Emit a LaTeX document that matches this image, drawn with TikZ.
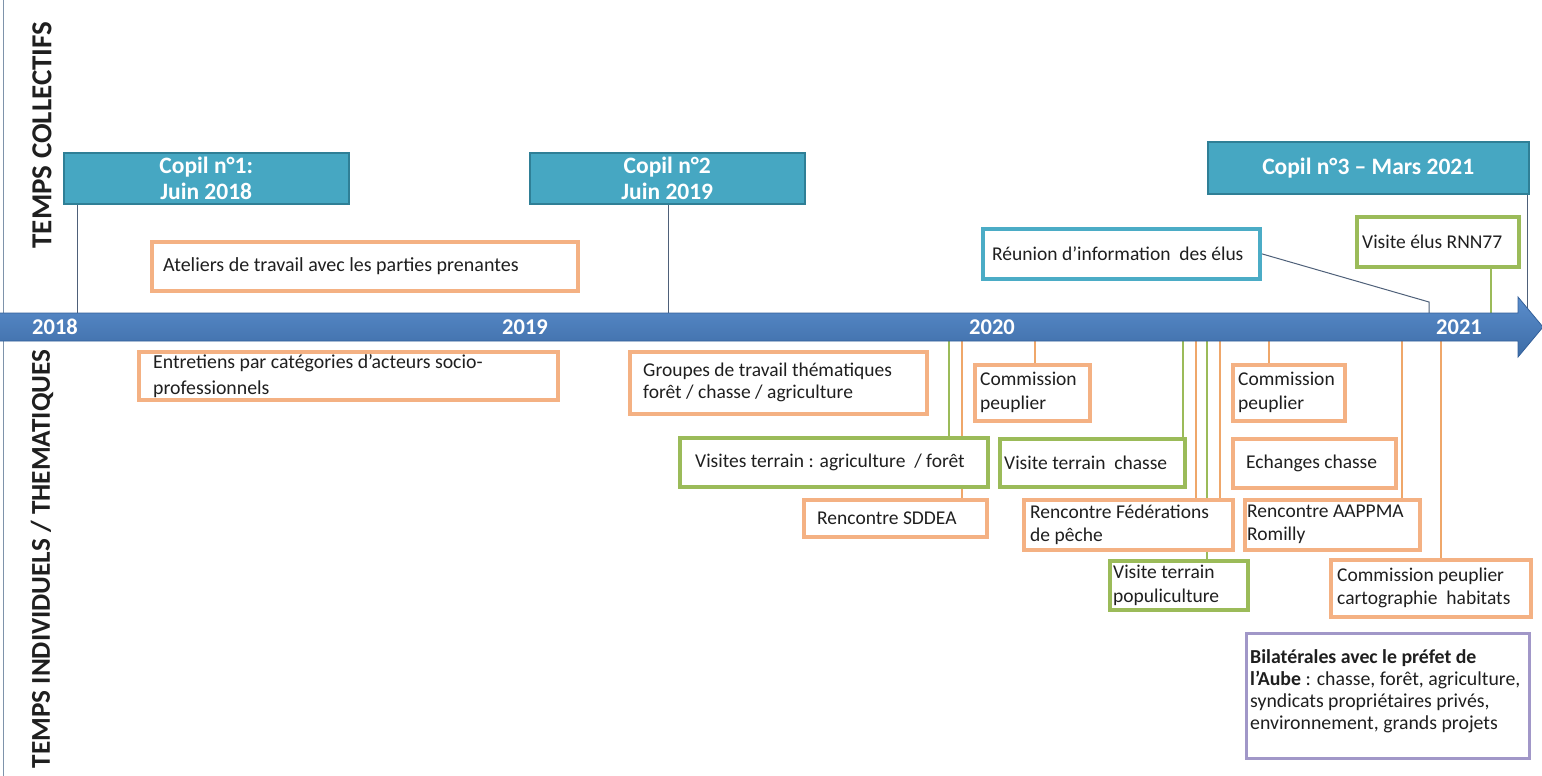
\documentclass[tikz,border=0pt]{standalone}
\usepackage{fontspec}
\setmainfont{Carlito}
\usetikzlibrary{backgrounds}
\definecolor{copilfill}{HTML}{46A7C2}
\definecolor{copildraw}{HTML}{2F7F96}
\definecolor{orb}{HTML}{F4B183}
\definecolor{grb}{HTML}{9BBB59}
\definecolor{teb}{HTML}{4BACC6}
\definecolor{pub}{HTML}{A197C8}
\definecolor{axtop}{HTML}{5A8DCC}
\definecolor{axbot}{HTML}{3D6CA6}
\definecolor{axdraw}{HTML}{33609A}
\definecolor{cl}{HTML}{4E6079}
\definecolor{ol}{HTML}{EFA76A}
\definecolor{gl}{HTML}{9BBB59}
\definecolor{txt}{HTML}{1F1F1F}
\definecolor{sideline}{HTML}{7E93AB}
\begin{document}
\begin{tikzpicture}[x=1pt,y=-1pt,
 copil/.style={rectangle, fill=copilfill, draw=copildraw, line width=1.5pt, inner sep=0pt, text=white, font=\fontsize{23.5}{26}\selectfont\bfseries, align=center, anchor=north west},
 box/.style={rectangle, fill=white, line width=3.5pt, inner sep=0pt, anchor=north west},
 obox/.style={box, draw=orb},
 gbox/.style={box, draw=grb},
 tbox/.style={box, draw=teb},
 pbox/.style={box, draw=pub, line width=3pt},
 lbl/.style={inner sep=0pt, text=txt, font=\fontsize{19.5}{24}\selectfont, align=left, anchor=west},
 yr/.style={inner sep=0pt, text=white, font=\fontsize{22.5}{24}\selectfont\bfseries},
 side/.style={inner sep=0pt, rotate=90, text=txt, font=\fontsize{29}{30}\selectfont\bfseries},
 cline/.style={draw=cl, line width=1pt},
 oline/.style={draw=ol, line width=1.2pt},
 gline/.style={draw=gl, line width=1.2pt},
]
\useasboundingbox (0,0) rectangle (1542,776);

% side labels
\node[side] (tc) at (42,135) {TEMPS COLLECTIFS};
\node[side, font=\fontsize{27.2}{28}\selectfont\bfseries] (ti) at (42,559) {TEMPS INDIVIDUELS / THEMATIQUES};

% time axis
\path[top color=axtop, bottom color=axbot, draw=axdraw, line width=0.8pt]
  (-2,313) -- (1518,313) -- (1518,297) -- (1543,327) -- (1518,357) -- (1518,341) -- (-2,341) -- cycle;
\coordinate (axT) at (0,313);
\coordinate (axB) at (0,341);
\node[yr] (y18) at (55,327) {2018};
\node[yr] (y19) at (525,327) {2019};
\node[yr] (y20) at (992,327) {2020};
\node[yr] (y21) at (1459,327) {2021};

% collective events
\node[copil, minimum width=285pt, minimum height=51pt] (c1) at (63,152) {Copil n°1:\\Juin 2018};
\node[copil, minimum width=275pt, minimum height=51pt] (c2) at (529,152) {Copil n°2\\Juin 2019};
\node[copil, minimum width=321pt, minimum height=52pt] (c3) at (1207,141) {Copil n°3 – Mars 2021};

\node[obox, minimum width=426pt, minimum height=49pt] (atel) at (150,240) {};
\node[lbl, font=\fontsize{20}{24}\selectfont] (atel-t) at ([xshift=13pt]atel.west) {Ateliers de travail avec les parties prenantes};

\node[tbox, minimum width=277pt, minimum height=50pt] (reun) at (981,227) {};
\node[lbl] (reun-t) at ([xshift=11pt]reun.west) {Réunion d’information\ \ des élus};

\node[gbox, minimum width=162pt, minimum height=50pt] (velus) at (1355,215) {};
\node[lbl] (velus-t) at ([xshift=7pt]velus.west) {Visite élus RNN77};

% individual / thematic events
\node[obox, minimum width=419pt, minimum height=48pt] (entr) at (137,350) {};
\node[lbl, font=\fontsize{19.8}{26}\selectfont] (entr-t) at ([xshift=16pt]entr.west) {Entretiens par catégories d’acteurs socio-\\professionnels};

\node[obox, minimum width=297pt, minimum height=62pt] (grp) at (628,350) {};
\node[lbl, font=\fontsize{19.5}{22}\selectfont] (grp-t) at ([xshift=15pt]grp.west) {Groupes de travail thématiques\\forêt / chasse / agriculture};

\node[gbox, minimum width=308pt, minimum height=49pt] (vagri) at (678,436) {};
\node[lbl] (vagri-t) at ([xshift=17pt]vagri.west) {Visites terrain : agriculture\ \ / forêt};

\node[obox, minimum width=183pt, minimum height=37pt] (sddea) at (802,498) {};
\node[lbl] (sddea-t) at ([xshift=15pt]sddea.west) {Rencontre SDDEA};

\node[obox, minimum width=115pt, minimum height=56pt] (com1) at (973,363) {};
\node[lbl] (com1-t) at ([xshift=7pt]com1.west) {Commission\\peuplier};

\node[gbox, minimum width=185pt, minimum height=48pt] (vchasse) at (998,437) {};
\node[lbl] (vchasse-t) at ([xshift=6pt]vchasse.west) {Visite terrain\ \ chasse};

\node[obox, minimum width=209pt, minimum height=50pt] (feder) at (1022,498) {};
\node[lbl, font=\fontsize{19.5}{23}\selectfont] (feder-t) at ([xshift=8pt]feder.west) {Rencontre Fédérations\\de pêche};

\node[gbox, minimum width=138pt, minimum height=49pt] (popu) at (1108,559) {};
\node[lbl] (popu-t) at ([xshift=5pt]popu.west) {Visite terrain\\populiculture};

\node[obox, minimum width=112pt, minimum height=56pt] (com2) at (1231,363) {};
\node[lbl] (com2-t) at ([xshift=7pt]com2.west) {Commission\\peuplier};

\node[obox, minimum width=163pt, minimum height=49pt] (ech) at (1231,437) {};
\node[lbl] (ech-t) at ([xshift=15pt]ech.west) {Echanges chasse};

\node[obox, minimum width=175pt, minimum height=50pt] (aappma) at (1243,498) {};
\node[lbl, font=\fontsize{19.5}{23}\selectfont] (aappma-t) at ([xshift=4pt]aappma.west) {Rencontre AAPPMA\\Romilly};

\node[obox, minimum width=200pt, minimum height=57pt] (carto) at (1329,558) {};
\node[lbl, font=\fontsize{19.5}{23}\selectfont] (carto-t) at ([xshift=8pt]carto.west) {Commission peuplier\\cartographie\ \ habitats};

\node[pbox, minimum width=283pt, minimum height=125pt] (bilat) at (1245,632) {};
\node[lbl, font=\fontsize{19.8}{22}\selectfont] (bilat-t) at ([xshift=5pt,yshift=5pt]bilat.west)
  {\textbf{Bilatérales avec le préfet de}\\\textbf{l’Aube} : chasse, forêt, agriculture,\\syndicats propriétaires privés,\\environnement, grands projets};

% background and connectors
\begin{scope}[on background layer]
 \fill[white] (0,0) rectangle (1542,776);
 \draw[sideline, line width=1pt] (3,0) -- (3,776);
 \draw[cline] (c1.south -| 77,0) -- (axT -| 77,0);
 \draw[cline] (c2.south -| 668,0) -- (axT -| 668,0);
 \draw[cline] (c3.south -| 1527,0) -- (axT -| 1527,0);
 \draw[cline] (reun.east) -- ([yshift=11pt]axT -| 1429,0) -- (axT -| 1429,0);
 \draw[gline] (velus.south -| 1491,0) -- (axT -| 1491,0);
 \draw[gline] (axB -| 949,0) -- (vagri.north -| 949,0);
 \draw[oline] (axB -| 962,0) -- (sddea.north -| 962,0);
 \draw[oline] (axB -| 1035,0) -- (com1.north -| 1035,0);
 \draw[gline] (axB -| 1183,0) -- (vchasse.north -| 1183,0);
 \draw[oline] (axB -| 1196,0) -- (feder.north -| 1196,0);
 \draw[gline] (axB -| 1207,0) -- (popu.north -| 1207,0);
 \draw[oline] (axB -| 1220,0) -- (feder.north -| 1220,0);
 \draw[oline] (axB -| 1269,0) -- (com2.north -| 1269,0);
 \draw[oline] (axB -| 1402,0) -- (aappma.north -| 1402,0);
 \draw[oline] (axB -| 1441,0) -- (carto.north -| 1441,0);
\end{scope}
\end{tikzpicture}
\end{document}
